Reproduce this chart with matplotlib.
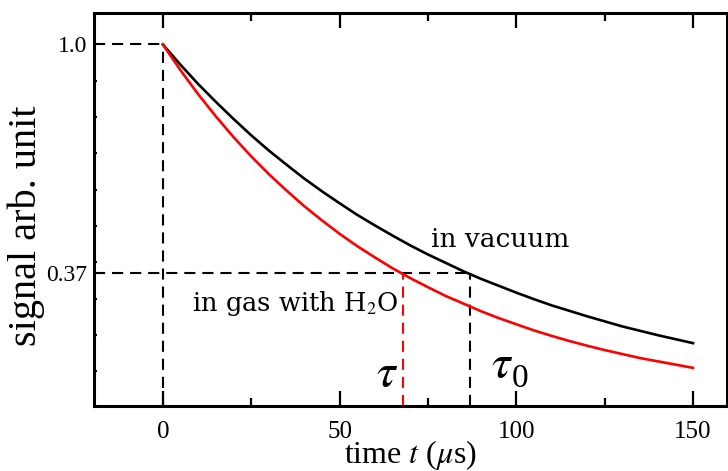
import matplotlib
matplotlib.use("Agg")
import matplotlib.pyplot as plt

plt.rcParams["font.family"] = ["Liberation Serif", "DejaVu Serif"]
plt.rcParams["mathtext.fontset"] = "stix"
plt.rcParams["lines.scale_dashes"] = False

# time axis (microseconds)
time_us = [0, 5, 10, 15, 20, 25, 30, 35, 40, 45, 50, 55, 60, 65, 70, 75,
           80, 85, 90, 95, 100, 105, 110, 115, 120, 125, 130, 135, 140, 145, 150]

# normalised ring-down signal in vacuum
signal_vacuum = [1.000, 0.944, 0.891, 0.842, 0.795, 0.750, 0.708, 0.669, 0.631,
                 0.596, 0.563, 0.531, 0.502, 0.474, 0.447, 0.422, 0.399, 0.376,
                 0.355, 0.336, 0.317, 0.299, 0.282, 0.267, 0.252, 0.238, 0.224,
                 0.212, 0.200, 0.189, 0.178]

# normalised ring-down signal in gas containing water vapour
signal_gas = [1.000, 0.929, 0.863, 0.802, 0.745, 0.692, 0.643, 0.598, 0.555,
              0.516, 0.479, 0.445, 0.414, 0.384, 0.357, 0.332, 0.308, 0.287,
              0.266, 0.247, 0.230, 0.213, 0.198, 0.184, 0.171, 0.159, 0.148,
              0.137, 0.128, 0.119, 0.110]

tau_gas = 68.0
tau_vacuum = 87.0
level_1e = 0.37

x_major = [0, 50, 100, 150]
x_major_labels = ["0", "50", "100", "150"]
x_minor = [25, 75, 125]
y_major = [0.37, 1.0]
y_major_labels = ["0.37", "1.0"]
y_minor = [0.1, 0.2, 0.3, 0.4, 0.5, 0.6, 0.7, 0.8, 0.9]

xmin, xmax = -19.5, 159.5
ymin, ymax = 0.005, 1.086

fig = plt.figure(figsize=(7.28, 4.71), dpi=100)
ax = fig.add_axes([0.129, 0.138, 0.869, 0.834])

dash = (0, (8, 5))
dash_kw = dict(color="black", lw=1.5, linestyle=dash)

# guide lines
ax.plot([xmin, 0], [1.0, 1.0], **dash_kw)
ax.plot([0, 0], [ymin, 1.0], **dash_kw)
ax.plot([xmin, tau_vacuum], [level_1e, level_1e], **dash_kw)
ax.plot([tau_vacuum, tau_vacuum], [ymin, level_1e], **dash_kw)
ax.plot([tau_gas, tau_gas], [ymin, level_1e], color="red", lw=1.5, linestyle=dash)

# decay curves
ax.plot(time_us, signal_vacuum, color="black", lw=1.9)
ax.plot(time_us, signal_gas, color="red", lw=1.9)

ax.set_xlim(xmin, xmax)
ax.set_ylim(ymin, ymax)

ax.set_xticks(x_major)
ax.set_xticklabels(x_major_labels)
ax.set_xticks(x_minor, minor=True)
ax.set_yticks(y_major)
ax.set_yticklabels(y_major_labels)
ax.set_yticks(y_minor, minor=True)

ax.tick_params(axis="x", which="major", direction="in", length=11, width=1.6,
               top=True, labelsize=18, pad=11)
ax.tick_params(axis="x", which="minor", direction="in", length=6, width=1.6, top=True)
ax.tick_params(axis="y", which="major", direction="in", length=3, width=1.5,
               labelsize=17, pad=5)
ax.tick_params(axis="y", which="minor", direction="in", length=2.5, width=1.5)

for s in ax.spines.values():
    s.set_linewidth(2.2)

ax.set_xlabel(r"time $t$ ($\mu$s)", fontsize=23, labelpad=-4)
ax.set_ylabel("signal arb. unit", fontsize=29)
ax.yaxis.set_label_coords(-0.077, 0.46)

ann = ["DejaVu Serif", "Liberation Serif"]
ax.text(76, 0.463, "in vacuum", fontsize=19, va="center", ha="left", family=ann)
ax.text(8.2, 0.287, r"in gas with H$_2$O", fontsize=18.5, va="center", ha="left",
        family=ann)
ax.text(63.4, 0.09, r"$\tau$", fontsize=34, va="center", ha="center")
ax.text(95.9, 0.115, r"$\tau$", fontsize=34, va="center", ha="center")
ax.text(101.0, 0.08, "0", fontsize=24, va="center", ha="center")

fig.savefig("out.png", dpi=100)
